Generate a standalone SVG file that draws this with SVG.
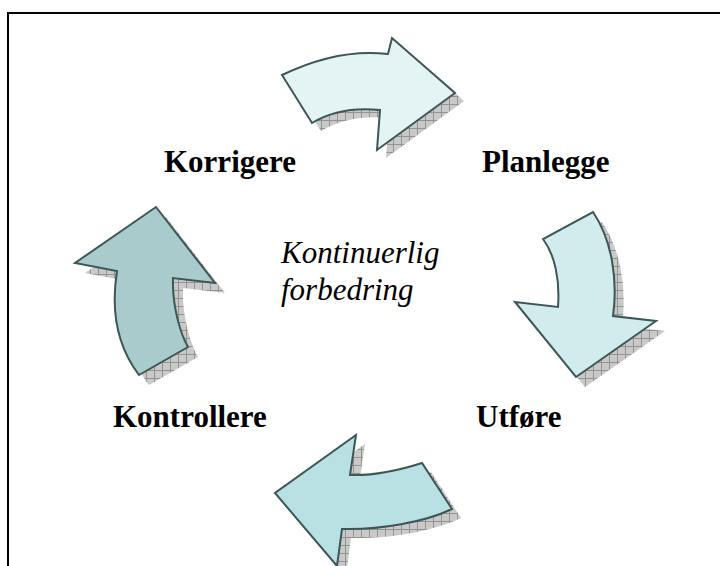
<svg xmlns="http://www.w3.org/2000/svg" width="720" height="566" viewBox="0 0 720 566">
<style>
.lbl{font-family:"Liberation Serif","Times New Roman",serif;font-weight:bold;font-size:31px;fill:#000}
.ctr{font-family:"Liberation Serif","Times New Roman",serif;font-style:italic;font-size:31px;fill:#000}
.arr{stroke:#3d5656;stroke-width:2;stroke-linejoin:miter}
.shd{fill:url(#hatch);stroke:none}
</style>
<defs>
<pattern id="hatch" width="8" height="8" patternUnits="userSpaceOnUse">
<rect width="8" height="8" fill="#c9c9c9"/>
<path d="M0 0.5H8M0.5 0V8" stroke="#939393" stroke-width="1"/>
</pattern>
<path id="a1" d="M282 75 Q338 48 388 54 L392 38 L455 93 L377 150 L380 110 Q340 106 312 123 Z"/>
<path id="a2" d="M593 212 C612 240 618 280 613 316 L656 321 L576 377 L515 302 L558 307 C560 280 555 255 543 239 Z"/>
<path id="a3" d="M356 435 L275 493 L337 566 L342 529 C380 530 425 522 452 509 L422 463 C400 470 375 476 350 475 Z"/>
<path id="a4" d="M156 207 L215 283 L173 278 C172 305 180 333 188 347 L139 375 C120 350 110 315 117 271 L75 263 Z"/>
</defs>
<rect width="720" height="566" fill="#fff"/>
<g id="frame" fill="none" stroke="#000" stroke-width="2">
<path d="M8 566 V13 H720"/>
</g>
<g id="connectors">
<g id="arrow-top">
<use href="#a1" class="shd" transform="translate(9,8)"/>
<use href="#a1" class="arr" fill="#e4f3f3"/>
</g>
<g id="arrow-right">
<use href="#a2" class="shd" transform="translate(9,10)"/>
<use href="#a2" class="arr" fill="#d2ebec"/>
</g>
<g id="arrow-bottom">
<use href="#a3" class="shd" transform="translate(9,9)"/>
<use href="#a3" class="arr" fill="#b9e0e3"/>
</g>
<g id="arrow-left">
<use href="#a4" class="shd" transform="translate(10,10)"/>
<use href="#a4" class="arr" fill="#a9cbcc"/>
</g>
</g>
<g id="node-korrigere"><text class="lbl" x="164" y="172">Korrigere</text></g>
<g id="node-planlegge"><text class="lbl" x="482" y="172">Planlegge</text></g>
<g id="node-utfore"><text class="lbl" x="476" y="427">Utføre</text></g>
<g id="node-kontrollere"><text class="lbl" x="113" y="427">Kontrollere</text></g>
<g id="node-center">
<text class="ctr" x="281" y="263">Kontinuerlig</text>
<text class="ctr" x="281" y="300">forbedring</text>
</g>
</svg>
